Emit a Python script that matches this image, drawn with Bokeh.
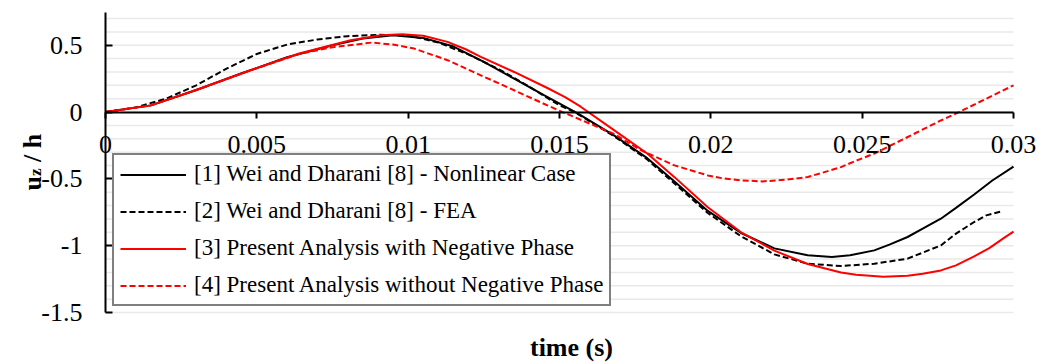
import numpy as np
from bokeh.plotting import figure
from bokeh.models import Range1d, FixedTicker, Legend, LegendItem, Label
from bokeh.embed import file_html
from bokeh.resources import INLINE

# ---- data (time in s, u_z/h) ----
t_nonlinear = [0, 0.0015, 0.003, 0.0045, 0.006, 0.0075, 0.0085, 0.0095, 0.0105, 0.0115,
               0.0125, 0.0135, 0.0145, 0.0156, 0.0168, 0.0179, 0.0188, 0.0199, 0.0210,
               0.0221, 0.0232, 0.0240, 0.0246, 0.0254, 0.0259, 0.0265, 0.0270, 0.0276,
               0.0281, 0.0287, 0.0293, 0.0300]
u_nonlinear = [0, 0.05, 0.165, 0.29, 0.41, 0.50, 0.55, 0.575, 0.555, 0.49,
               0.375, 0.25, 0.125, -0.01, -0.175, -0.345, -0.52, -0.74, -0.905,
               -1.02, -1.072, -1.085, -1.072, -1.035, -0.992, -0.935, -0.873, -0.798,
               -0.717, -0.617, -0.512, -0.408]

t_fea = [0, 0.001, 0.002, 0.003, 0.004, 0.005, 0.006, 0.007, 0.008, 0.009, 0.0100,
         0.0110, 0.0120, 0.0130, 0.0140, 0.0150, 0.0155, 0.0168, 0.0179, 0.0188, 0.0199,
         0.0210, 0.0221, 0.0232, 0.0243, 0.0254, 0.0265, 0.0276, 0.0281, 0.0287,
         0.0291, 0.0296]
u_fea = [0, 0.035, 0.10, 0.20, 0.325, 0.435, 0.505, 0.543, 0.568, 0.578, 0.575,
         0.52, 0.43, 0.32, 0.19, 0.05, 0, -0.18, -0.355, -0.535, -0.755,
         -0.93, -1.065, -1.135, -1.152, -1.135, -1.097, -0.998, -0.91, -0.823,
         -0.773, -0.743]

t_with_neg = [0, 0.0015, 0.003, 0.0048, 0.0064, 0.0081, 0.0091, 0.0098, 0.0105, 0.0113,
              0.0119, 0.0124, 0.0135, 0.0146, 0.0152, 0.0157, 0.0168, 0.0179, 0.0188,
              0.0199, 0.0210, 0.0221, 0.0232, 0.0243, 0.0248, 0.0257, 0.0265, 0.0270,
              0.0276, 0.0281, 0.0287, 0.0292, 0.0297, 0.0300]
u_with_neg = [0, 0.05, 0.165, 0.313, 0.438, 0.538, 0.575, 0.583, 0.571, 0.525,
              0.47, 0.413, 0.30, 0.18, 0.11, 0.04, -0.135, -0.31, -0.487,
              -0.712, -0.90, -1.037, -1.137, -1.20, -1.217, -1.232, -1.225, -1.21,
              -1.185, -1.147, -1.08, -1.018, -0.94, -0.895]

t_without_neg = [0, 0.0015, 0.003, 0.0048, 0.0064, 0.0075, 0.0088, 0.0095, 0.0102, 0.0113,
                 0.0124, 0.0135, 0.0146, 0.0151, 0.0168, 0.0177, 0.0188, 0.0199, 0.0204,
                 0.0210, 0.0217, 0.0225, 0.0232, 0.0237, 0.0243, 0.0248, 0.0254, 0.0276,
                 0.0282, 0.0291, 0.0300]
u_without_neg = [0, 0.05, 0.165, 0.313, 0.435, 0.485, 0.52, 0.505, 0.475, 0.388,
                 0.275, 0.163, 0.05, 0, -0.163, -0.287, -0.399, -0.474, -0.496,
                 -0.511, -0.519, -0.506, -0.486, -0.453, -0.412, -0.364, -0.311, -0.063,
                 0, 0.1, 0.2]

series_labels = ["[1] Wei and Dharani [8] - Nonlinear Case",
                 "[2] Wei and Dharani [8] - FEA",
                 "[3] Present Analysis with Negative Phase",
                 "[4] Present Analysis without Negative Phase"]

x_ticks = [0, 0.005, 0.01, 0.015, 0.02, 0.025, 0.03]
x_tick_labels = ["0", "0.005", "0.01", "0.015", "0.02", "0.025", "0.03"]
y_ticks = [-1.5, -1.0, -0.5, 0.0, 0.5]
y_tick_labels = ["-1.5", "-1", "-0.5", "0", "0.5"]
y_grid = [round(v, 1) for v in np.arange(-1.5, 0.75, 0.1)]

FONT = "Liberation Serif"

# ---- layout geometry (canvas px); the frame covers the whole canvas ----
W, H = 1038, 363
LEFT, RIGHT, TOP, BOTTOM = 105, 1013, 12, 312
X0, X1, Y0, Y1 = 0.0, 0.03, -1.5, 0.745
sx = (RIGHT - LEFT) / (X1 - X0)
sy = (BOTTOM - TOP) / (Y1 - Y0)


def cx(px):  # canvas x -> data x (for placing annotation text)
    return X0 + (px - LEFT) / sx


def cy(py):  # canvas y -> data y
    return Y0 + (BOTTOM - py) / sy


p = figure(width=W, height=H, output_backend="svg", toolbar_location=None,
           x_range=Range1d(cx(0), cx(W)), y_range=Range1d(cy(H), cy(0)),
           min_border=0, min_border_left=0, min_border_right=0,
           min_border_top=0, min_border_bottom=0)
p.outline_line_color = None
p.background_fill_color = "white"
p.border_fill_color = "white"
p.xgrid.visible = False
p.ygrid.visible = False

# horizontal gridlines, limited to the plot area
p.segment(x0=[X0] * len(y_grid), y0=y_grid, x1=[X1] * len(y_grid), y1=y_grid,
          line_color="#e9e9e9", line_width=1.5)

# x axis at y = 0
xa = p.xaxis[0]
xa.fixed_location = 0
xa.bounds = (X0, X1)
xa.ticker = FixedTicker(ticks=x_ticks)
xa.major_label_overrides = {v: s for v, s in zip(x_ticks, x_tick_labels)}
xa.major_tick_out = 6
xa.major_tick_in = 0
xa.minor_tick_line_color = None
xa.axis_line_color = "black"
xa.axis_line_width = 2
xa.major_tick_line_width = 2
xa.major_label_text_font = FONT
xa.major_label_text_font_size = "26px"
xa.major_label_text_color = "black"
xa.major_label_standoff = 18

# y axis at x = 0
ya = p.yaxis[0]
ya.fixed_location = 0
ya.bounds = (Y0, Y1)
ya.ticker = FixedTicker(ticks=y_ticks)
ya.major_label_overrides = {v: s for v, s in zip(y_ticks, y_tick_labels)}
ya.major_tick_in = 7
ya.major_tick_out = 0
ya.minor_tick_line_color = None
ya.axis_line_color = "black"
ya.axis_line_width = 2
ya.major_tick_line_width = 2
ya.major_label_text_font = FONT
ya.major_label_text_font_size = "26px"
ya.major_label_text_color = "black"
ya.major_label_standoff = 23

# curves
r1 = p.line(t_nonlinear, u_nonlinear, line_color="black", line_width=2)
r2 = p.line(t_fea, u_fea, line_color="black", line_width=2, line_dash="6 3")
r3 = p.line(t_with_neg, u_with_neg, line_color="#ff0000", line_width=2)
r4 = p.line(t_without_neg, u_without_neg, line_color="#ff0000", line_width=2, line_dash="6 3")

legend = Legend(items=[LegendItem(label=series_labels[i], renderers=[r])
                       for i, r in enumerate([r1, r2, r3, r4])],
                location=(112, H - 306), orientation="vertical",
                label_text_font=FONT, label_text_font_size="23px", label_text_color="black",
                glyph_width=66, glyph_height=21, label_height=21, label_standoff=8,
                spacing=11, padding=6, margin=0,
                border_line_color="black", border_line_width=2,
                background_fill_color="white", background_fill_alpha=1.0)
p.add_layout(legend, "center")

# axis titles
p.add_layout(Label(x=cx(571), y=cy(347), text="time (s)",
                   text_font=FONT, text_font_size="26px", text_font_style="bold",
                   text_align="center", text_baseline="middle", text_color="black"))
p.add_layout(Label(x=cx(31.5), y=cy(190), text="u", angle=np.pi / 2,
                   text_font=FONT, text_font_size="26px", text_font_style="bold",
                   text_align="left", text_baseline="alphabetic", text_color="black"))
p.add_layout(Label(x=cx(35), y=cy(175.5), text="z", angle=np.pi / 2,
                   text_font=FONT, text_font_size="17px", text_font_style="bold",
                   text_align="left", text_baseline="alphabetic", text_color="black"))
p.add_layout(Label(x=cx(31.5), y=cy(161.5), text="/ h", angle=np.pi / 2,
                   text_font=FONT, text_font_size="26px", text_font_style="bold",
                   text_align="left", text_baseline="alphabetic", text_color="black"))

open("out.html", "w").write(file_html(p, INLINE))
